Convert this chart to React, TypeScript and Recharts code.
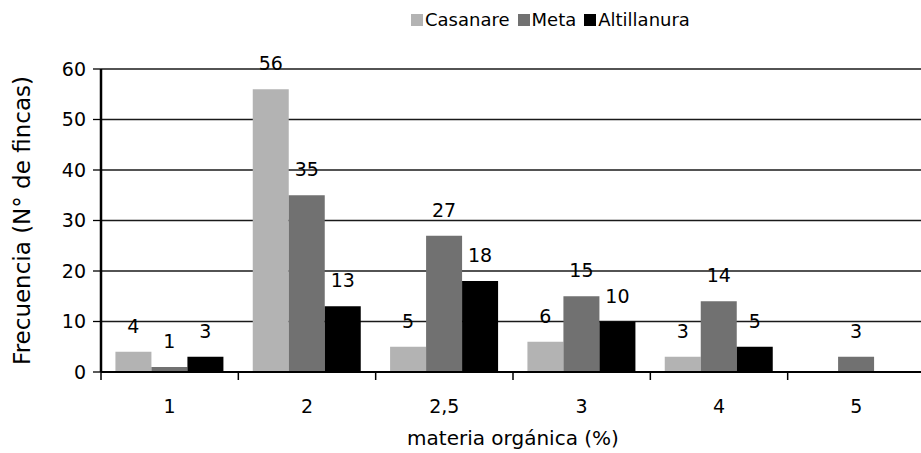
import { BarChart, Bar, XAxis, YAxis, CartesianGrid, Legend, LabelList } from 'recharts'

const categories = ['1', '2', '2,5', '3', '4', '5']
const casanare = [4, 56, 5, 6, 3, 0]
const meta = [1, 35, 27, 15, 14, 3]
const altillanura = [3, 13, 18, 10, 5, 0]
const yTicks = [0, 10, 20, 30, 40, 50, 60]

const series = [
  { key: 'casanare', name: 'Casanare', color: '#b3b3b3' },
  { key: 'meta', name: 'Meta', color: '#717171' },
  { key: 'altillanura', name: 'Altillanura', color: '#000000' },
]

const W = 921
const H = 453
const margin = { top: 69, right: -4, bottom: 0, left: 0 }
const yAxisWidth = 101
const band = (W - margin.left - margin.right - yAxisWidth) / categories.length
const font = '"DejaVu Sans", sans-serif'
const fs = 19

const data = categories.map((c, i) => ({
  cat: c,
  casanare: casanare[i],
  meta: meta[i],
  altillanura: altillanura[i],
}))

function XTick(props: any) {
  const { x, y, payload } = props
  return (
    <g>
      <line x1={x - band / 2} x2={x - band / 2} y1={y} y2={y + 8} stroke="#000" strokeWidth={1.5} />
      <text x={x} y={y + 41} textAnchor="middle" fontSize={fs} fontFamily={font} fill="#000">
        {payload.value}
      </text>
    </g>
  )
}

function ValueLabel(props: any) {
  const { x, y, width, value } = props
  if (!value) return null
  return (
    <text x={x + width / 2} y={y - 19} textAnchor="middle" fontSize={fs} fontFamily={font} fill="#000">
      {value}
    </text>
  )
}

function LegendBox() {
  return (
    <div style={{ display: 'flex', paddingLeft: 411, fontFamily: font, fontSize: 18, lineHeight: '24px' }}>
      {series.map((s) => (
        <div key={s.key} style={{ display: 'flex', alignItems: 'center', marginRight: 8 }}>
          <span style={{ width: 12, height: 12, background: s.color, marginRight: 2, display: 'inline-block' }} />
          <span>{s.name}</span>
        </div>
      ))}
    </div>
  )
}

export default function App() {
  return (
    <div style={{ position: 'absolute', left: 0, top: 0, background: '#fff' }}>
      <BarChart width={W} height={H} data={data} margin={margin} barGap={0} barCategoryGap="10.5%">
        <CartesianGrid vertical={false} stroke="#1a1a1a" strokeWidth={1.5} />
        <Legend verticalAlign="middle" align="center" wrapperStyle={{ top: 8, left: 0, width: W }} content={() => <LegendBox />} />
        <XAxis
          dataKey="cat"
          height={81}
          axisLine={{ stroke: '#000', strokeWidth: 2 }}
          tickLine={false}
          tickSize={0}
          tickMargin={0}
          interval={0}
          tick={<XTick />}
          label={{ value: 'materia orgánica (%)', position: 'insideBottom', offset: 8, fontSize: 20, fontFamily: font, fill: '#000' }}
        />
        <YAxis
          width={yAxisWidth}
          domain={[0, 60]}
          ticks={yTicks}
          interval={0}
          axisLine={{ stroke: '#000', strokeWidth: 2.5 }}
          tickLine={{ stroke: '#000', strokeWidth: 1.3 }}
          tickSize={8}
          tickMargin={7}
          tick={{ fontSize: fs, fontFamily: font, fill: '#000' }}
          label={{ value: 'Frecuencia (N° de fincas)', angle: -90, position: 'center', dx: -29, fontSize: 23, fontFamily: font, fill: '#000' }}
        />
        {series.map((s) => (
          <Bar key={s.key} dataKey={s.key} name={s.name} fill={s.color} isAnimationActive={false}>
            <LabelList dataKey={s.key} content={<ValueLabel />} />
          </Bar>
        ))}
      </BarChart>
    </div>
  )
}
